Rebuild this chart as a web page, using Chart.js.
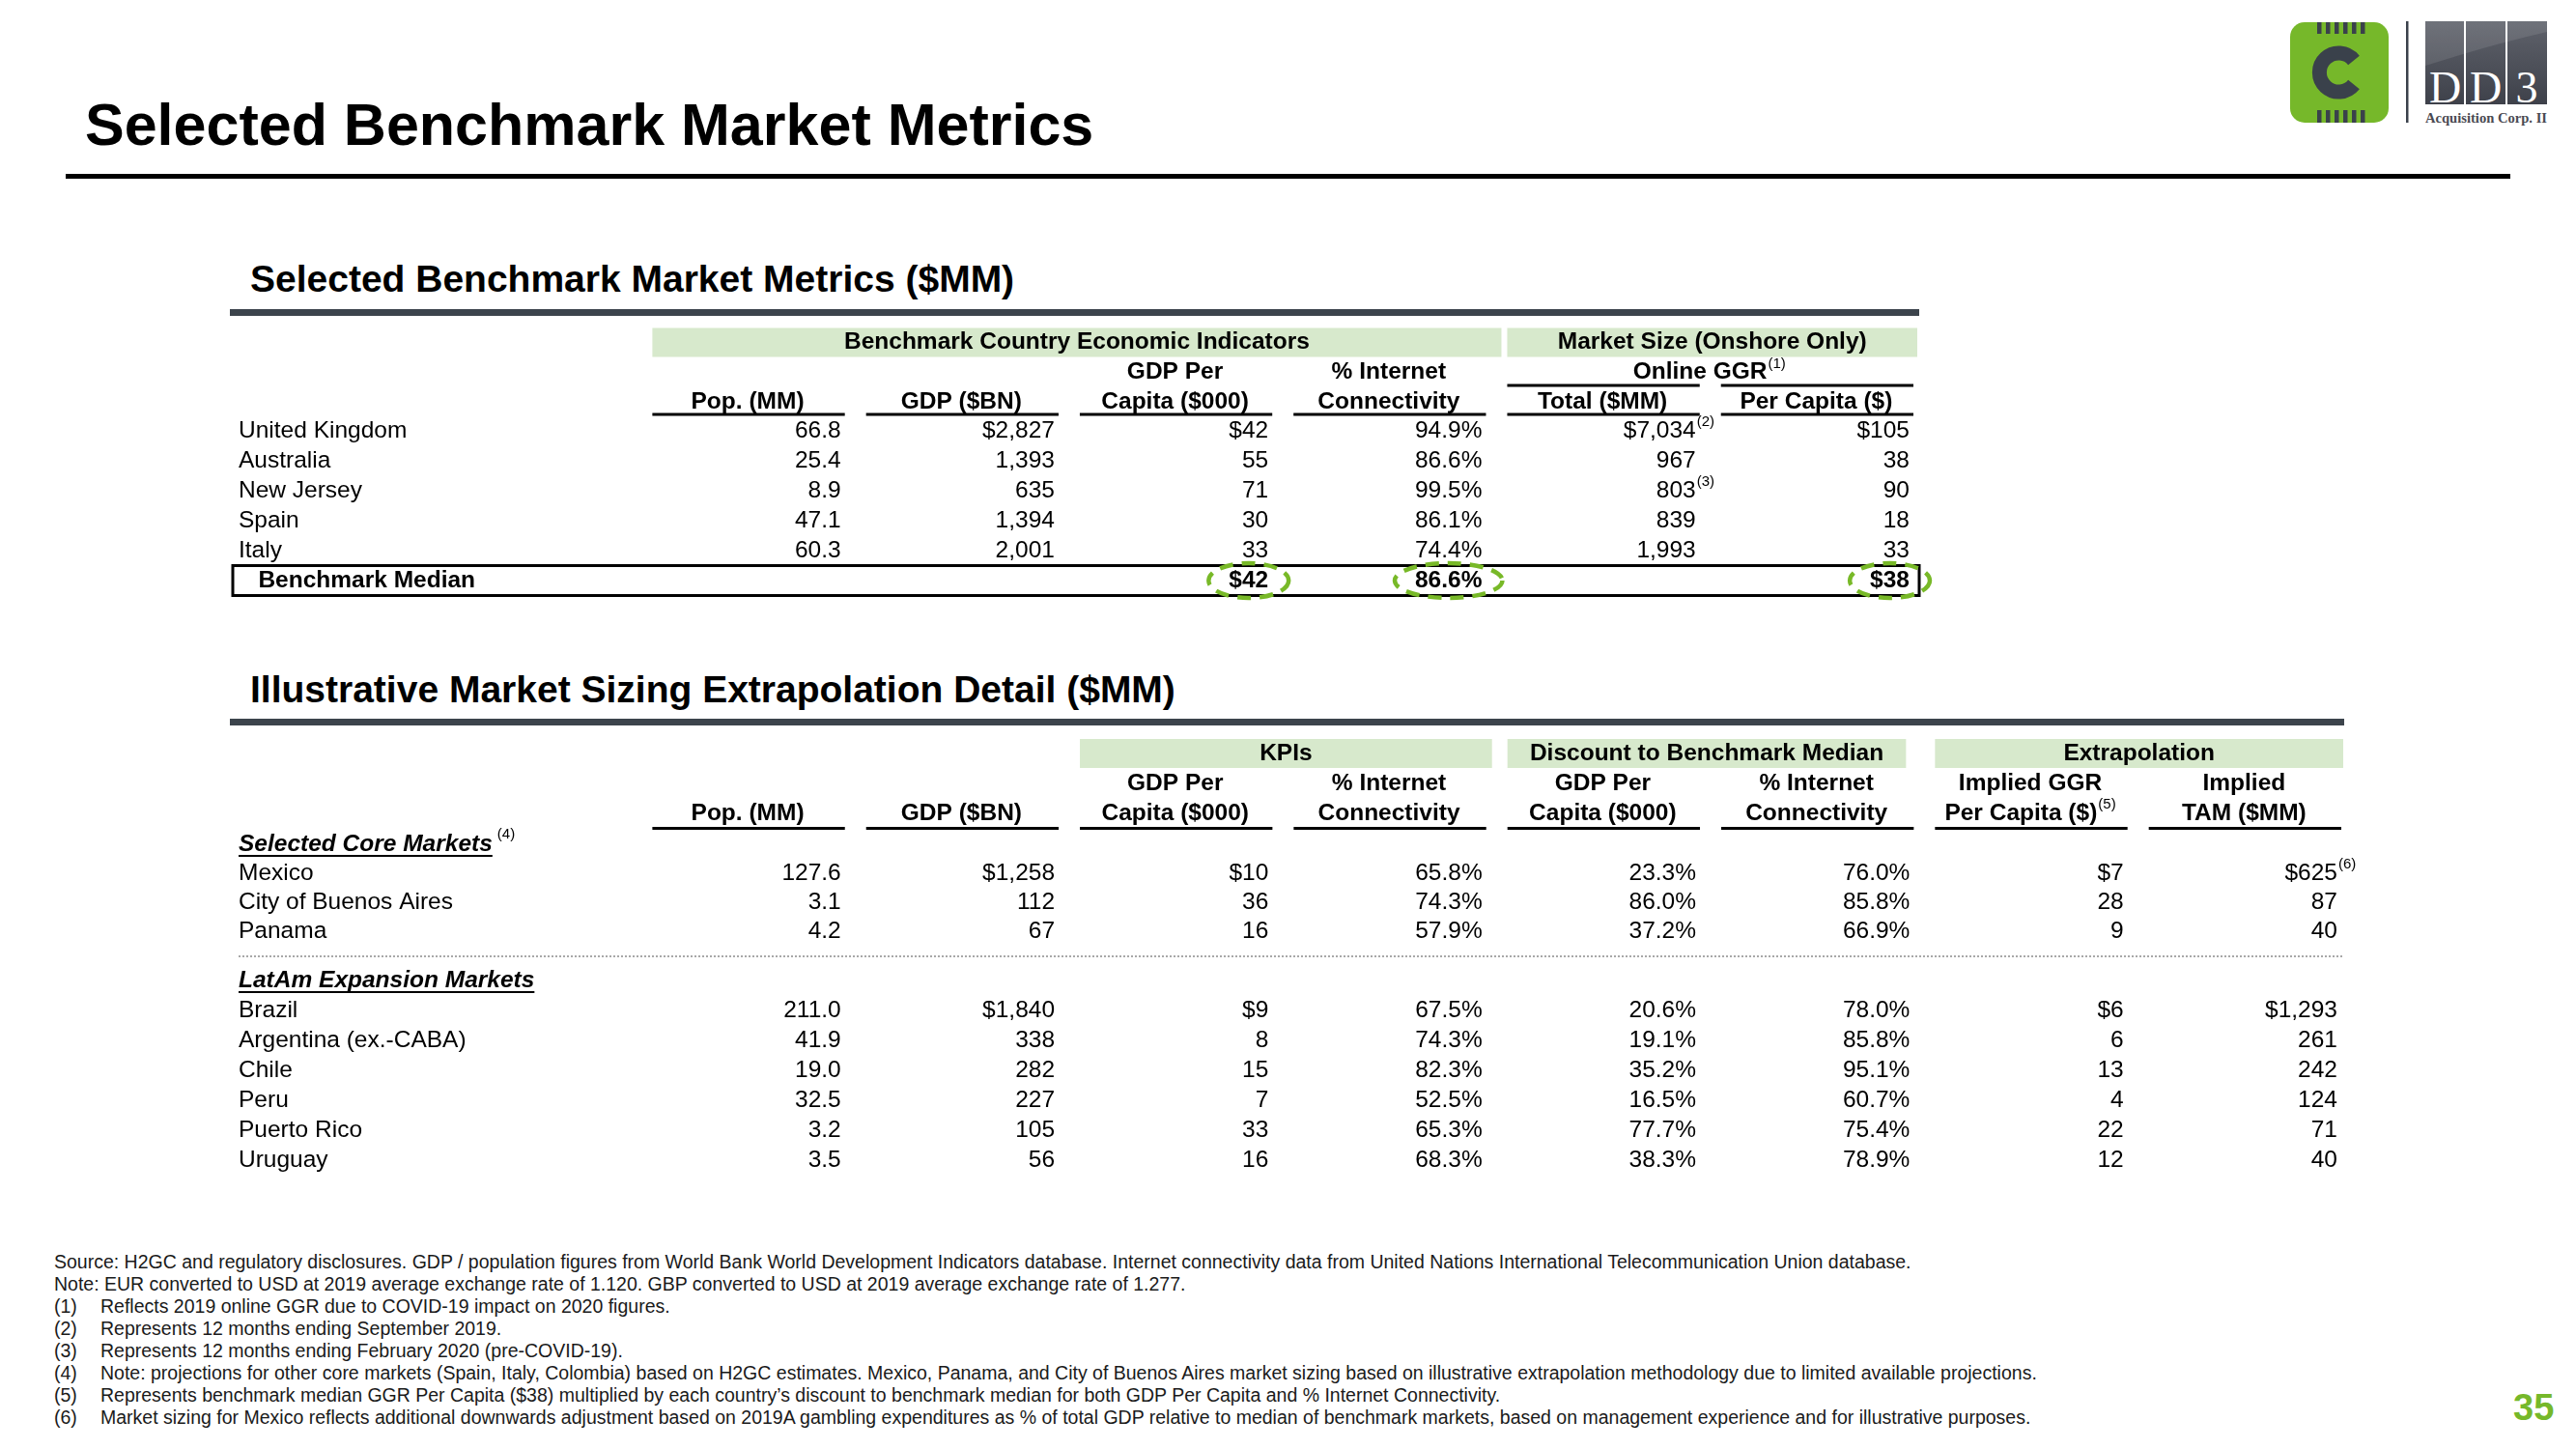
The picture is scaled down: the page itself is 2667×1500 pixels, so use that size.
<!DOCTYPE html>
<html>
<head>
<meta charset="utf-8">
<script src="https://cdn.jsdelivr.net/npm/chart.js@4.4.1/dist/chart.umd.min.js"></script>
<style>
html,body{margin:0;padding:0;background:#fff;}
#page{position:relative;width:2667px;height:1500px;overflow:hidden;background:#fff;font-family:"Liberation Sans",Arial,Helvetica,sans-serif;color:#000;}
.abs{position:absolute;white-space:nowrap;}
#title{left:88px;top:99px;font-size:61px;font-weight:bold;line-height:61px;}
.sub{left:259px;font-size:39px;font-weight:bold;line-height:39px;}
.rule{background:#3c444c;}
#notes{left:56px;top:1295px;font-size:19.5px;line-height:23px;color:#1a1a1a;}
#notes div{position:relative;height:23px;}
#notes .n{position:absolute;left:0;}
#notes .t{position:absolute;left:48px;}
#pnum{left:2602px;top:1438px;font-size:38px;font-weight:bold;line-height:38px;color:#76b82a;}
canvas{position:absolute;left:0;}
</style>
</head>
<body>
<div id="page">
  <div id="title" class="abs">Selected Benchmark Market Metrics</div>
  <div class="abs" style="left:68px;top:180px;width:2531px;height:5px;background:#000;"></div>

  <svg class="abs" style="left:2340px;top:0" width="327" height="150" viewBox="0 0 327 150">
    <defs>
      <linearGradient id="ddg" x1="0" y1="0" x2="0" y2="1">
        <stop offset="0" stop-color="#5f626b"/>
        <stop offset="1" stop-color="#3e414a"/>
      </linearGradient>
    </defs>
    <rect x="31" y="23" width="102" height="104" rx="15" fill="#76b82a"/>
    <g fill="#3a414b">
      <rect x="59" y="23" width="4.5" height="12"/><rect x="68" y="23" width="4.5" height="12"/>
      <rect x="77" y="23" width="4.5" height="12"/><rect x="86" y="23" width="4.5" height="12"/>
      <rect x="95" y="23" width="4.5" height="12"/><rect x="104" y="23" width="4.5" height="12"/>
      <rect x="59" y="114" width="4.5" height="13"/><rect x="68" y="114" width="4.5" height="13"/>
      <rect x="77" y="114" width="4.5" height="13"/><rect x="86" y="114" width="4.5" height="13"/>
      <rect x="95" y="114" width="4.5" height="13"/><rect x="104" y="114" width="4.5" height="13"/>
    </g>
    <path d="M97 62.5 A20 20 0 1 0 97 87.5" stroke="#3a414b" stroke-width="15" fill="none"/>
    <rect x="151" y="22" width="2.5" height="105" fill="#3a414b"/>
    <rect x="171" y="22" width="126" height="86" fill="url(#ddg)"/>
    <path d="M171 22 H297 V33 Q240 46 171 68 Z" fill="#ffffff" fill-opacity="0.10"/>
    <rect x="211" y="22" width="2" height="86" fill="#fff"/>
    <rect x="254" y="22" width="2" height="86" fill="#fff"/>
    <text x="191.5" y="106" font-family="Liberation Serif, DejaVu Serif, serif" font-size="46" fill="#fff" text-anchor="middle">D</text>
    <text x="233.5" y="106" font-family="Liberation Serif, DejaVu Serif, serif" font-size="46" fill="#fff" text-anchor="middle">D</text>
    <text x="276" y="106" font-family="Liberation Serif, DejaVu Serif, serif" font-size="46" fill="#fff" text-anchor="middle">3</text>
    <text x="171" y="127" font-family="Liberation Serif, DejaVu Serif, serif" font-weight="bold" font-size="15.5" fill="#4a4a52" textLength="126" lengthAdjust="spacingAndGlyphs">Acquisition Corp. II</text>
  </svg>

  <div class="abs sub" style="top:269px;">Selected Benchmark Market Metrics ($MM)</div>
  <div class="abs rule" style="left:238px;top:320px;width:1749px;height:7px;"></div>
  <canvas id="t1" width="2667" height="320" style="top:330px;"></canvas>

  <div class="abs sub" style="top:694px;">Illustrative Market Sizing Extrapolation Detail ($MM)</div>
  <div class="abs rule" style="left:238px;top:744px;width:2189px;height:7px;"></div>
  <canvas id="t2a" width="2667" height="270" style="top:740px;"></canvas>
  <canvas id="t2b" width="2667" height="260" style="top:975px;"></canvas>

  <div id="notes" class="abs">
    <div>Source: H2GC and regulatory disclosures. GDP / population figures from World Bank World Development Indicators database. Internet connectivity data from United Nations International Telecommunication Union database.</div>
    <div>Note: EUR converted to USD at 2019 average exchange rate of 1.120. GBP converted to USD at 2019 average exchange rate of 1.277.</div>
    <div><span class="n">(1)</span><span class="t">Reflects 2019 online GGR due to COVID-19 impact on 2020 figures.</span></div>
    <div><span class="n">(2)</span><span class="t">Represents 12 months ending September 2019.</span></div>
    <div><span class="n">(3)</span><span class="t">Represents 12 months ending February 2020 (pre-COVID-19).</span></div>
    <div><span class="n">(4)</span><span class="t">Note: projections for other core markets (Spain, Italy, Colombia) based on H2GC estimates. Mexico, Panama, and City of Buenos Aires market sizing based on illustrative extrapolation methodology due to limited available projections.</span></div>
    <div><span class="n">(5)</span><span class="t">Represents benchmark median GGR Per Capita ($38) multiplied by each country’s discount to benchmark median for both GDP Per Capita and % Internet Connectivity.</span></div>
    <div><span class="n">(6)</span><span class="t">Market sizing for Mexico reflects additional downwards adjustment based on 2019A gambling expenditures as % of total GDP relative to median of benchmark markets, based on management experience and for illustrative purposes.</span></div>
  </div>
  <div id="pnum" class="abs">35</div>
</div>

<script>
// ================= DATA =================
// Table 1: Selected Benchmark Market Metrics ($MM)
const benchmarkMarkets = ['United Kingdom', 'Australia', 'New Jersey', 'Spain', 'Italy'];
const benchmarkPop = [66.8, 25.4, 8.9, 47.1, 60.3];
const benchmarkGdp = [2827, 1393, 635, 1394, 2001];
const benchmarkGdpPerCapita = [42, 55, 71, 30, 33];
const benchmarkInternet = [94.9, 86.6, 99.5, 86.1, 74.4];
const benchmarkGgrTotal = [7034, 967, 803, 839, 1993];
const benchmarkGgrPerCapita = [105, 38, 90, 18, 33];
const benchmarkGgrTotalNotes = ['(2)', '', '(3)', '', ''];
const medianLabel = 'Benchmark Median';
const medianValues = [null, null, 42, 86.6, null, 38];

const benchmarkColumnKeys = ['pop', 'gdp', 'gdpPc', 'internet', 'ggrTotal', 'ggrPc'];
const benchmarkHeaderTop = ['', '', 'GDP Per', '% Internet', '', ''];
const benchmarkHeaderBottom = ['Pop. (MM)', 'GDP ($BN)', 'Capita ($000)', 'Connectivity', 'Total ($MM)', 'Per Capita ($)'];
const benchmarkBands = ['Benchmark Country Economic Indicators', 'Market Size (Onshore Only)'];
const benchmarkGroupTitle = 'Online GGR';

// Table 2: Illustrative Market Sizing Extrapolation Detail ($MM)
const coreLabel = 'Selected Core Markets';
const coreMarkets = ['Mexico', 'City of Buenos Aires', 'Panama'];
const corePop = [127.6, 3.1, 4.2];
const coreGdp = [1258, 112, 67];
const coreGdpPerCapita = [10, 36, 16];
const coreInternet = [65.8, 74.3, 57.9];
const coreDiscGdpPerCapita = [23.3, 86.0, 37.2];
const coreDiscInternet = [76.0, 85.8, 66.9];
const coreImpliedGgrPerCapita = [7, 28, 9];
const coreImpliedTam = [625, 87, 40];
const coreImpliedTamNotes = ['(6)', '', ''];

const latamLabel = 'LatAm Expansion Markets';
const latamMarkets = ['Brazil', 'Argentina (ex.-CABA)', 'Chile', 'Peru', 'Puerto Rico', 'Uruguay'];
const latamPop = [211.0, 41.9, 19.0, 32.5, 3.2, 3.5];
const latamGdp = [1840, 338, 282, 227, 105, 56];
const latamGdpPerCapita = [9, 8, 15, 7, 33, 16];
const latamInternet = [67.5, 74.3, 82.3, 52.5, 65.3, 68.3];
const latamDiscGdpPerCapita = [20.6, 19.1, 35.2, 16.5, 77.7, 38.3];
const latamDiscInternet = [78.0, 85.8, 95.1, 60.7, 75.4, 78.9];
const latamImpliedGgrPerCapita = [6, 6, 13, 4, 22, 12];
const latamImpliedTam = [1293, 261, 242, 124, 71, 40];

const sizingColumnKeys = ['pop', 'gdp', 'gdpPc', 'internet', 'discGdpPc', 'discInternet', 'impliedGgrPc', 'impliedTam'];
const sizingHeaderTop = ['', '', 'GDP Per', '% Internet', 'GDP Per', '% Internet', 'Implied GGR', 'Implied'];
const sizingHeaderBottom = ['Pop. (MM)', 'GDP ($BN)', 'Capita ($000)', 'Connectivity', 'Capita ($000)', 'Connectivity', 'Per Capita ($)', 'TAM ($MM)'];
const sizingHeaderNotes = ['', '', '', '', '', '', '(5)', ''];
const sizingBands = ['KPIs', 'Discount to Benchmark Median', 'Extrapolation'];

// ================= STYLE =================
const FAMILY = '"Liberation Sans", Arial, Helvetica, sans-serif';
const fontOf = (size, weight = 'normal', style = 'normal') => `${style} ${weight} ${size}px ${FAMILY}`;
const CELL = 24.5;
const SUP_FONT = fontOf(15);
const BAND_COLOR = '#d7e9cc';
const HL_COLOR = '#78b928';
const HDR = { bandTop: -94, bandH: 30, bandText: -79, line1: -48, line2: -17, groupRule: -33, rule: -3, ruleH: 3 };
const PAD_R = 14;

function fmt(kind, v, dollar) {
  if (kind === 'fixed1') return v.toFixed(1);
  if (kind === 'pct') return v.toFixed(1) + '%';
  return (dollar ? '$' : '') + v.toLocaleString('en-US');
}

function cells(key, rows, values, kind, notes) {
  return values.map((v, i) => ({ x: key, y: rows[i], text: fmt(kind, v, i === 0), note: notes ? notes[i] : '' }));
}

function centeredWithNote(ctx, text, note, cx, y, font) {
  ctx.font = font;
  const w1 = ctx.measureText(text).width;
  let w2 = 0;
  if (note) { ctx.font = SUP_FONT; w2 = ctx.measureText(note).width + 1; }
  const x0 = cx - (w1 + w2) / 2;
  ctx.font = font; ctx.textAlign = 'left'; ctx.textBaseline = 'middle';
  ctx.fillText(text, x0, y);
  if (note) { ctx.font = SUP_FONT; ctx.fillText(note, x0 + w1 + 1, y - 9); }
}

function makeDecor(spec) {
  return {
    id: 'decor_' + spec.id,
    afterDraw(chart) {
      const ctx = chart.ctx, xs = chart.scales.x, ys = chart.scales.y, area = chart.chartArea;
      const nCols = xs.getLabels().length, nRows = ys.getLabels().length;
      const slot = (area.right - area.left) / nCols;
      const rowH = (area.bottom - area.top) / nRows;
      const L = i => xs.getPixelForValue(i) - slot / 2;
      const R = i => xs.getPixelForValue(i) + slot / 2;
      const hs = spec.headShift || 0;
      ctx.save();
      ctx.fillStyle = '#000';
      ctx.textBaseline = 'middle';

      // green header bands
      (spec.bands || []).forEach(b => {
        const x0 = L(b.from) + 12, x1 = R(b.to) + b.trimR;
        ctx.fillStyle = BAND_COLOR;
        ctx.fillRect(x0, area.top + HDR.bandTop + hs, x1 - x0, HDR.bandH);
        ctx.fillStyle = '#000';
        centeredWithNote(ctx, b.text, '', (x0 + x1) / 2, area.top + HDR.bandText + hs, fontOf(CELL, 'bold'));
      });

      // column headers and rules
      if (spec.headTop) {
        spec.headTop.forEach((t, i) => {
          const c = xs.getPixelForValue(i);
          if (t) centeredWithNote(ctx, t, '', c, area.top + HDR.line1 + hs, fontOf(CELL, 'bold'));
          centeredWithNote(ctx, spec.headBottom[i], spec.headNotes ? spec.headNotes[i] : '', c, area.top + HDR.line2 + hs, fontOf(CELL, 'bold'));
          ctx.fillStyle = '#000';
          ctx.fillRect(L(i) + 12, area.top + HDR.rule, slot - 22, HDR.ruleH);
        });
      }
      if (spec.group) {
        const g = spec.group;
        centeredWithNote(ctx, g.text, g.note, (L(g.from) + R(g.to)) / 2, area.top + HDR.line1 + hs, fontOf(CELL, 'bold'));
        for (let i = g.from; i <= g.to; i++) ctx.fillRect(L(i) + 12, area.top + HDR.groupRule, slot - 22, HDR.ruleH);
      }

      // dotted separator
      if (spec.separator) {
        ctx.save();
        ctx.strokeStyle = '#a8a8a8'; ctx.lineWidth = 2; ctx.setLineDash([2, 2]);
        ctx.beginPath();
        ctx.moveTo(ys.left, area.top - 9.5); ctx.lineTo(area.right - 7, area.top - 9.5);
        ctx.stroke();
        ctx.restore();
      }

      // group row labels: underline + note
      (spec.groupRows || []).forEach(r => {
        const y = ys.getPixelForValue(r);
        ctx.font = fontOf(CELL, 'bold', 'italic');
        const w = ctx.measureText(ys.getLabels()[r]).width;
        ctx.fillRect(ys.left, y + 11, w, 2);
        if (spec.groupNote) { ctx.font = SUP_FONT; ctx.textAlign = 'left'; ctx.fillText(spec.groupNote, ys.left + w + 5, y - 10); }
      });

      // median box
      if (spec.boxRow !== undefined) {
        const y = ys.getPixelForValue(spec.boxRow);
        ctx.strokeStyle = '#000'; ctx.lineWidth = 3;
        ctx.strokeRect(ys.left - 6, y - rowH / 2, area.right - 4 - (ys.left - 6), rowH);
      }

      // cells
      chart.data.datasets.forEach((ds, di) => {
        const meta = chart.getDatasetMeta(di);
        meta.data.forEach((pt, i) => {
          const raw = ds.data[i];
          const right = pt.x + slot / 2 - PAD_R;
          ctx.font = fontOf(CELL, raw.bold ? 'bold' : 'normal');
          ctx.textAlign = 'right'; ctx.textBaseline = 'middle'; ctx.fillStyle = '#000';
          ctx.fillText(raw.text, right, pt.y);
          const w = ctx.measureText(raw.text).width;
          if (raw.note) { ctx.font = SUP_FONT; ctx.textAlign = 'left'; ctx.fillText(raw.note, right + 1, pt.y - 9); }
          if (raw.highlight) {
            ctx.save();
            ctx.strokeStyle = HL_COLOR; ctx.lineWidth = 4.5; ctx.setLineDash([14, 9]);
            ctx.beginPath();
            ctx.ellipse(right - w / 2, pt.y, w / 2 + 21, 18, 0, 0, Math.PI * 2);
            ctx.stroke();
            ctx.restore();
          }
        });
      });
      ctx.restore();
    }
  };
}

function buildTable(spec) {
  const datasets = spec.columns.map(col => ({
    label: col.key,
    data: col.data,
    showLine: false, pointRadius: 0, pointHoverRadius: 0, borderWidth: 0
  }));
  return new Chart(document.getElementById(spec.id), {
    type: 'line',
    data: { datasets },
    options: {
      responsive: false, animation: false, events: [],
      layout: { padding: spec.padding },
      plugins: { legend: { display: false }, tooltip: { enabled: false } },
      scales: {
        x: { type: 'category', labels: spec.columns.map(c => c.key), offset: true, display: false },
        y: {
          type: 'category', labels: spec.rows, offset: true, position: 'left',
          grid: { display: false }, border: { display: false },
          ticks: {
            autoSkip: false, crossAlign: 'far', color: '#000', padding: 0,
            font: c => {
              if ((spec.groupRows || []).includes(c.index)) return { family: FAMILY, size: CELL, weight: 'bold', style: 'italic' };
              if (c.index === spec.boxRow) return { family: FAMILY, size: CELL, weight: 'bold' };
              return { family: FAMILY, size: CELL, weight: 'normal' };
            },
            callback: (v, i) => (i === spec.boxRow ? '   ' : '') + spec.rows[i]
          },
          afterFit: s => { s.width = 416.4; }
        }
      }
    },
    plugins: [makeDecor(spec)]
  });
}

// ---- Table 1
const t1Rows = benchmarkMarkets.concat([medianLabel]);
const t1Kinds = ['fixed1', 'money', 'money', 'pct', 'money', 'money'];
const t1Values = [benchmarkPop, benchmarkGdp, benchmarkGdpPerCapita, benchmarkInternet, benchmarkGgrTotal, benchmarkGgrPerCapita];
const t1Columns = benchmarkColumnKeys.map((key, ci) => {
  const data = cells(key, benchmarkMarkets, t1Values[ci], t1Kinds[ci], key === 'ggrTotal' ? benchmarkGgrTotalNotes : null);
  if (medianValues[ci] !== null) data.push({ x: key, y: medianLabel, text: fmt(t1Kinds[ci], medianValues[ci], true), bold: true, highlight: true });
  return { key, data };
});
buildTable({
  id: 't1', rows: t1Rows, columns: t1Columns, boxRow: 5, headShift: 3,
  padding: { left: 247, top: 100.5, right: 676, bottom: 33.5 },
  headTop: benchmarkHeaderTop, headBottom: benchmarkHeaderBottom,
  bands: [{ from: 0, to: 3, text: benchmarkBands[0], trimR: 6 }, { from: 4, to: 5, text: benchmarkBands[1], trimR: -6 }],
  group: { from: 4, to: 5, text: benchmarkGroupTitle, note: '(1)' }
});

// ---- Table 2
const t2Kinds = ['fixed1', 'money', 'money', 'pct', 'pct', 'pct', 'money', 'money'];
const coreValues = [corePop, coreGdp, coreGdpPerCapita, coreInternet, coreDiscGdpPerCapita, coreDiscInternet, coreImpliedGgrPerCapita, coreImpliedTam];
const latamValues = [latamPop, latamGdp, latamGdpPerCapita, latamInternet, latamDiscGdpPerCapita, latamDiscInternet, latamImpliedGgrPerCapita, latamImpliedTam];

buildTable({
  id: 't2a', rows: [coreLabel].concat(coreMarkets), groupRows: [0], groupNote: '(4)',
  columns: sizingColumnKeys.map((key, ci) => ({ key, data: cells(key, coreMarkets, coreValues[ci], t2Kinds[ci], key === 'impliedTam' ? coreImpliedTamNotes : null) })),
  padding: { left: 247, top: 119, right: 233, bottom: 31 },
  headTop: sizingHeaderTop, headBottom: sizingHeaderBottom, headNotes: sizingHeaderNotes,
  bands: [{ from: 2, to: 3, text: sizingBands[0], trimR: -4 }, { from: 4, to: 5, text: sizingBands[1], trimR: -18 }, { from: 6, to: 7, text: sizingBands[2], trimR: -8 }]
});

buildTable({
  id: 't2b', rows: [latamLabel].concat(latamMarkets), groupRows: [0], separator: true,
  columns: sizingColumnKeys.map((key, ci) => ({ key, data: cells(key, latamMarkets, latamValues[ci], t2Kinds[ci], null) })),
  padding: { left: 247, top: 24.5, right: 233, bottom: 18.5 }
});
</script>
</body>
</html>
